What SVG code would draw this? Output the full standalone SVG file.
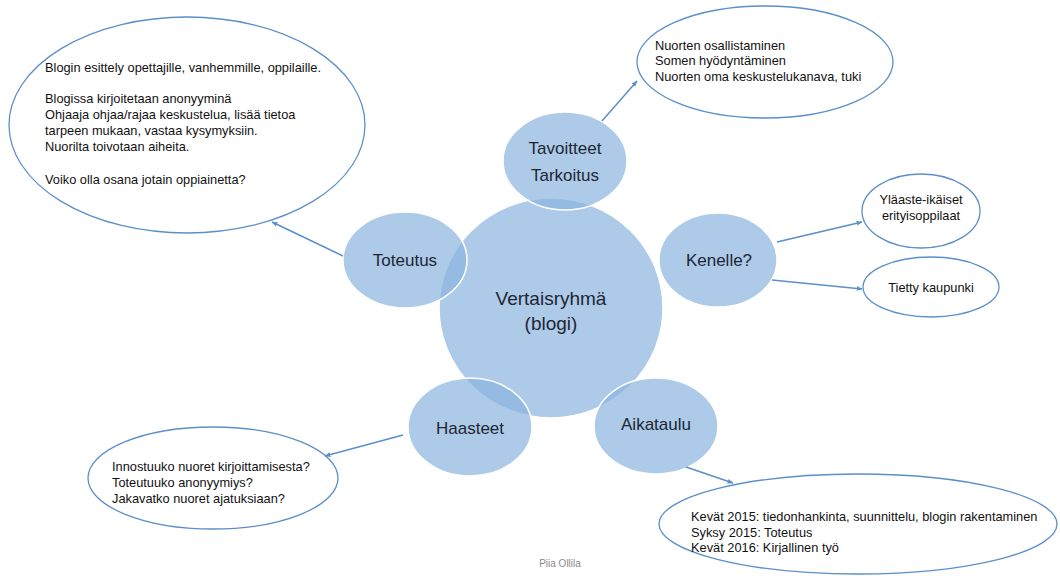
<svg xmlns="http://www.w3.org/2000/svg" width="1060" height="576" viewBox="0 0 1060 576">
<defs>
<style>
.bub{fill:#8db5e0;fill-opacity:0.72;stroke:#ffffff;stroke-width:1.5}
.out{fill:none;stroke:#5b8fc9;stroke-width:1.3}
.lbl{font-family:"Liberation Sans",Arial,sans-serif;font-size:17px;fill:#1e2633;text-anchor:middle}
.big{font-family:"Liberation Sans",Arial,sans-serif;font-size:19px;fill:#1e2633;text-anchor:middle}
.sm{font-family:"Liberation Sans",Arial,sans-serif;font-size:12.8px;fill:#111111}
.smc{font-family:"Liberation Sans",Arial,sans-serif;font-size:12.8px;fill:#111111;text-anchor:middle}
.con{stroke:#5b8fc9;stroke-width:1.5;fill:none;marker-end:url(#ah)}
</style>
<marker id="ah" viewBox="0 0 10 10" refX="9" refY="5" markerWidth="6" markerHeight="6" orient="auto" markerUnits="userSpaceOnUse">
<path d="M0,1 L10,5 L0,9 z" fill="#5b8fc9"/>
</marker>
</defs>
<rect width="1060" height="576" fill="#ffffff"/>

<g id="center">
<ellipse class="bub" cx="551" cy="308" rx="112" ry="110"/>
</g>
<g id="tavoitteet">
<ellipse class="bub" cx="565" cy="161" rx="62" ry="49"/>
<text class="lbl" x="565" y="154">Tavoitteet</text>
<text class="lbl" x="565" y="181">Tarkoitus</text>
</g>
<g id="toteutus">
<ellipse class="bub" cx="405" cy="260" rx="62" ry="48"/>
<text class="lbl" x="405" y="266">Toteutus</text>
</g>
<g id="kenelle">
<ellipse class="bub" cx="718" cy="260" rx="59" ry="47"/>
<text class="lbl" x="719" y="266">Kenelle?</text>
</g>
<g id="haasteet">
<ellipse class="bub" cx="470" cy="427" rx="62" ry="49"/>
<text class="lbl" x="470" y="434">Haasteet</text>
</g>
<g id="aikataulu">
<ellipse class="bub" cx="656" cy="426" rx="62" ry="48"/>
<text class="lbl" x="656" y="430">Aikataulu</text>
</g>
<g id="center-label">
<text class="big" x="551" y="305">Vertaisryhmä</text>
<text class="big" x="551" y="330">(blogi)</text>
</g>

<g id="toteutus-info">
<ellipse class="out" cx="187" cy="125" rx="178" ry="108"/>
<text class="sm" x="45" y="72">Blogin esittely opettajille, vanhemmille, oppilaille.</text>
<text class="sm" x="45" y="103">Blogissa kirjoitetaan anonyyminä</text>
<text class="sm" x="45" y="119">Ohjaaja ohjaa/rajaa keskustelua, lisää tietoa</text>
<text class="sm" x="45" y="135">tarpeen mukaan, vastaa kysymyksiin.</text>
<text class="sm" x="45" y="151">Nuorilta toivotaan aiheita.</text>
<text class="sm" x="45" y="184">Voiko olla osana jotain oppiainetta?</text>
</g>
<g id="tavoitteet-info">
<ellipse class="out" cx="765" cy="62" rx="128" ry="56"/>
<text class="sm" x="655" y="50">Nuorten osallistaminen</text>
<text class="sm" x="655" y="65">Somen hyödyntäminen</text>
<text class="sm" x="655" y="81">Nuorten oma keskustelukanava, tuki</text>
</g>
<g id="ylaaste">
<ellipse class="out" cx="921" cy="211" rx="59" ry="37"/>
<text class="smc" x="921" y="204">Yläaste-ikäiset</text>
<text class="smc" x="921" y="220">erityisoppilaat</text>
</g>
<g id="kaupunki">
<ellipse class="out" cx="931" cy="287" rx="68" ry="30"/>
<text class="smc" x="931" y="292">Tietty kaupunki</text>
</g>
<g id="haasteet-info">
<ellipse class="out" cx="213" cy="478" rx="125" ry="51"/>
<text class="sm" x="112" y="471">Innostuuko nuoret kirjoittamisesta?</text>
<text class="sm" x="112" y="487">Toteutuuko anonyymiys?</text>
<text class="sm" x="112" y="503">Jakavatko nuoret ajatuksiaan?</text>
</g>
<g id="aikataulu-info">
<ellipse class="out" cx="858" cy="524" rx="199" ry="50"/>
<text class="sm" x="691" y="521">Kevät 2015: tiedonhankinta, suunnittelu, blogin rakentaminen</text>
<text class="sm" x="691" y="537">Syksy 2015: Toteutus</text>
<text class="sm" x="691" y="552">Kevät 2016: Kirjallinen työ</text>
</g>

<g id="connectors">
<line class="con" x1="602" y1="121" x2="637" y2="81"/>
<line class="con" x1="343" y1="256" x2="272" y2="222"/>
<line class="con" x1="777" y1="242" x2="862" y2="222"/>
<line class="con" x1="772" y1="280" x2="862" y2="289"/>
<line class="con" x1="403" y1="435" x2="325" y2="456"/>
<line class="con" x1="686" y1="467" x2="733" y2="483"/>
</g>

<text x="560" y="567" style="font-family:'Liberation Sans',Arial,sans-serif;font-size:10px;fill:#8a8a8a;text-anchor:middle">Piia Ollila</text>
</svg>
